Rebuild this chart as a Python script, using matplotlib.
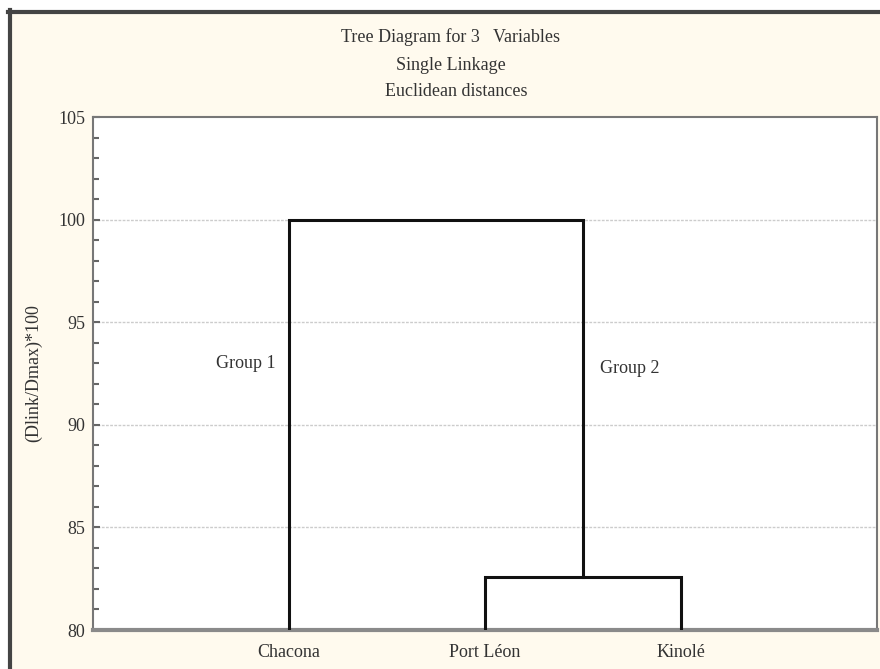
import matplotlib
matplotlib.use("Agg")
import matplotlib.pyplot as plt
from matplotlib.patches import Rectangle
from matplotlib.ticker import MultipleLocator

# Data
categories = ["Chacona", "Port Léon", "Kinolé"]
merge_low = 82.6      # Port Léon + Kinolé
merge_high = 100.0    # Chacona + (Port Léon, Kinolé)
y_base = 80
y_ticks = [80, 85, 90, 95, 100, 105]
title_lines = ["Tree Diagram for 3   Variables", "Single Linkage", "Euclidean distances"]
ylabel = "(Dlink/Dmax)*100"
group_labels = ["Group 1", "Group 2"]

W, H = 880, 669
fig = plt.figure(figsize=(W / 100, H / 100), dpi=100, facecolor="white")
serif = ["Liberation Serif", "DejaVu Serif"]
tc = "#333333"
fs = 13

# cream background panel with dark left/top border
bg = Rectangle((9.5 / W, -0.1), 1.2, 1 - 11.5 / H + 0.1,
               transform=fig.transFigure, facecolor="#fffaee", edgecolor="none", zorder=-3)
fig.add_artist(bg)
fig.add_artist(plt.Line2D([9.5 / W, 9.5 / W], [0, 1 - 10 / H], transform=fig.transFigure,
                          color="#444444", lw=3, zorder=-2))
fig.add_artist(plt.Line2D([8 / W, 1], [1 - 11.5 / H, 1 - 11.5 / H], transform=fig.transFigure,
                          color="#444444", lw=3, zorder=-2))

left, right, top, bottom = 93, 877, 117, 630
ax = fig.add_axes([left / W, 1 - bottom / H, (right - left) / W, (bottom - top) / H])
ax.set_zorder(1)
ax.set_facecolor("white")

x = [1, 2, 3]
lw = 2.2
# Port Léon - Kinolé link
ax.plot([x[1], x[1], x[2], x[2]], [y_base, merge_low, merge_low, y_base], color="#111111", lw=lw,
        solid_joinstyle="miter", zorder=3)
mid = (x[1] + x[2]) / 2
# Chacona - cluster link
ax.plot([x[0], x[0], mid, mid], [y_base, merge_high, merge_high, merge_low], color="#111111", lw=lw,
        solid_joinstyle="miter", zorder=3)

ax.set_xlim(0, 4)
ax.set_ylim(y_ticks[0], y_ticks[-1])
ax.set_xticks(x)
ax.set_xticklabels(categories, fontsize=fs, family=serif, color=tc)
ax.set_yticks(y_ticks)
ax.set_yticklabels([str(t) for t in y_ticks], fontsize=fs, family=serif, color=tc)
ax.yaxis.set_minor_locator(MultipleLocator(1))
ax.tick_params(axis="y", which="major", direction="in", length=5, width=1.5, color="#666666", pad=5.5)
ax.tick_params(axis="y", which="minor", direction="in", length=4, width=1.5, color="#666666")
ax.tick_params(axis="x", length=0, pad=10)

for yv in y_ticks[1:-1]:
    ax.axhline(yv, color="#cccccc", lw=1, ls=(0, (2, 1)), zorder=1)

for s in ["left", "right", "top"]:
    ax.spines[s].set_color("#777777")
    ax.spines[s].set_linewidth(1.5)
ax.spines["bottom"].set_color("#8a8a8a")
ax.spines["bottom"].set_linewidth(3)

ax.set_ylabel(ylabel, fontsize=fs, family=serif, color=tc, va="center")
ax.yaxis.set_label_coords((34 - left) / (right - left), 0.5)

ax.text(1 - 0.07, 93.0, group_labels[0], fontsize=fs, family=serif, color=tc,
        ha="right", va="center")
ax.text(2.5 + 0.085, 92.75, group_labels[1], fontsize=fs, family=serif, color=tc,
        ha="left", va="center")

ys = [37, 65, 92]
xs = [450, 451, 456]
for t, xx, yy in zip(title_lines, xs, ys):
    fig.text(xx / W, 1 - yy / H, t, fontsize=fs, family=serif, color=tc,
             ha="center", va="center")

fig.savefig("out.png", dpi=100, facecolor=fig.get_facecolor())
